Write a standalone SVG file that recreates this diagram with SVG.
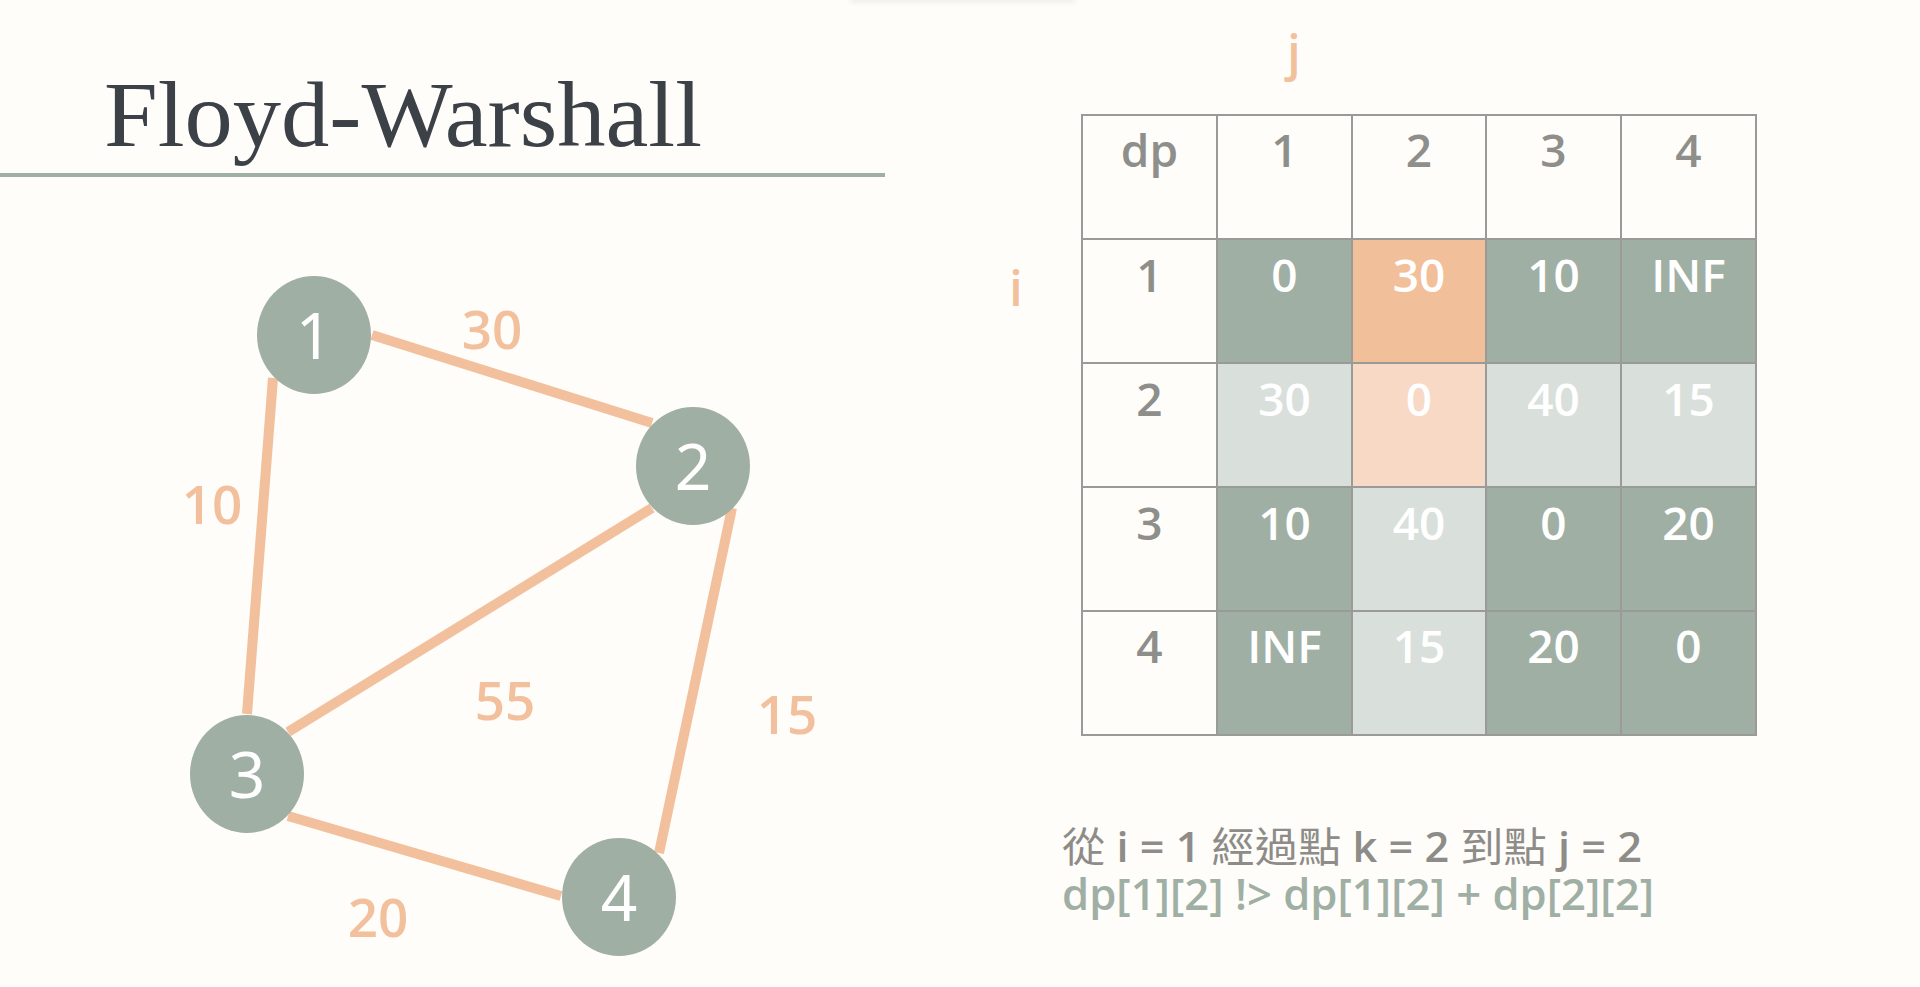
<svg xmlns="http://www.w3.org/2000/svg" width="1920" height="987" viewBox="0 0 1920 987">
<defs>
<filter id="blur" x="-20%" y="-200%" width="140%" height="500%"><feGaussianBlur stdDeviation="3"/></filter>
<style>
.node{fill:#a0afa4}
.nlabel{font-family:"Noto Sans","Open Sans",sans-serif;font-size:64px;fill:#ffffff;text-anchor:middle}
.edge{stroke:#f2c09c;stroke-width:10;fill:none}
.elabel{font-family:"Open Sans","Noto Sans",sans-serif;font-size:53px;font-weight:600;fill:#f2c09c;text-anchor:middle}
.cell{stroke:#9a9a98;stroke-width:2}
.white{fill:#fefdfa}
.dark{fill:#a0afa4}
.light{fill:#d9dfdb}
.org{fill:#f2bf9b}
.lorg{fill:#f7d9c5}
.hd{font-family:"Open Sans","Noto Sans",sans-serif;font-size:46px;font-weight:600;fill:#8e8e8b;text-anchor:middle}
.val{font-family:"Open Sans","Noto Sans",sans-serif;font-size:46px;font-weight:600;fill:#ffffff;text-anchor:middle}
.axis{font-family:"Open Sans","Noto Sans",sans-serif;font-size:48px;font-weight:600;fill:#f2c09c;text-anchor:middle}
.cjk{font-weight:400}
</style>
</defs>
<rect x="0" y="0" width="1920" height="987" fill="#fefdfa"/>
<rect x="850" y="-4" width="225" height="6" fill="#000" opacity="0.08" filter="url(#blur)"/>

<g id="title">
<text x="104" y="146" font-family="Liberation Serif, serif" font-size="93" fill="#3c4147" textLength="598" lengthAdjust="spacingAndGlyphs">Floyd-Warshall</text>
<rect x="0" y="173" width="885" height="4" fill="#a0afa4"/>
</g>

<g id="connectors">
<line class="edge" x1="372" y1="335" x2="652" y2="423"/>
<line class="edge" x1="273" y1="378" x2="247" y2="714"/>
<line class="edge" x1="652" y1="508" x2="288" y2="732"/>
<line class="edge" x1="732" y1="508" x2="659" y2="853"/>
<line class="edge" x1="288" y1="816" x2="561" y2="896"/>
<text class="elabel" x="492" y="349">30</text>
<text class="elabel" x="212" y="524">10</text>
<text class="elabel" x="505" y="720">55</text>
<text class="elabel" x="787" y="734">15</text>
<text class="elabel" x="378" y="937">20</text>
</g>

<g id="node1"><ellipse class="node" cx="314" cy="335" rx="57" ry="59"/><text class="nlabel" x="314" y="359">1</text></g>
<g id="node2"><ellipse class="node" cx="693" cy="466" rx="57" ry="59"/><text class="nlabel" x="693" y="490">2</text></g>
<g id="node3"><ellipse class="node" cx="247" cy="774" rx="57" ry="59"/><text class="nlabel" x="247" y="798">3</text></g>
<g id="node4"><ellipse class="node" cx="619" cy="897" rx="57" ry="59"/><text class="nlabel" x="619" y="921">4</text></g>

<g id="table">
<text class="axis" x="1294" y="70">j</text>
<text class="axis" x="1016" y="306">i</text>
<rect class="cell white" x="1082" y="115" width="135" height="124"/>
<rect class="cell white" x="1217" y="115" width="135" height="124"/>
<rect class="cell white" x="1352" y="115" width="134" height="124"/>
<rect class="cell white" x="1486" y="115" width="135" height="124"/>
<rect class="cell white" x="1621" y="115" width="135" height="124"/>
<rect class="cell white" x="1082" y="239" width="135" height="124"/>
<rect class="cell dark" x="1217" y="239" width="135" height="124"/>
<rect class="cell org" x="1352" y="239" width="134" height="124"/>
<rect class="cell dark" x="1486" y="239" width="135" height="124"/>
<rect class="cell dark" x="1621" y="239" width="135" height="124"/>
<rect class="cell white" x="1082" y="363" width="135" height="124"/>
<rect class="cell light" x="1217" y="363" width="135" height="124"/>
<rect class="cell lorg" x="1352" y="363" width="134" height="124"/>
<rect class="cell light" x="1486" y="363" width="135" height="124"/>
<rect class="cell light" x="1621" y="363" width="135" height="124"/>
<rect class="cell white" x="1082" y="487" width="135" height="124"/>
<rect class="cell dark" x="1217" y="487" width="135" height="124"/>
<rect class="cell light" x="1352" y="487" width="134" height="124"/>
<rect class="cell dark" x="1486" y="487" width="135" height="124"/>
<rect class="cell dark" x="1621" y="487" width="135" height="124"/>
<rect class="cell white" x="1082" y="611" width="135" height="124"/>
<rect class="cell dark" x="1217" y="611" width="135" height="124"/>
<rect class="cell light" x="1352" y="611" width="134" height="124"/>
<rect class="cell dark" x="1486" y="611" width="135" height="124"/>
<rect class="cell dark" x="1621" y="611" width="135" height="124"/>

<text class="hd" x="1149.5" y="167">dp</text>
<text class="hd" x="1284.5" y="167">1</text>
<text class="hd" x="1419" y="167">2</text>
<text class="hd" x="1553.5" y="167">3</text>
<text class="hd" x="1688.5" y="167">4</text>

<text class="hd" x="1149.5" y="292">1</text>
<text class="val" x="1284.5" y="292">0</text>
<text class="val" x="1419" y="292">30</text>
<text class="val" x="1553.5" y="292">10</text>
<text class="val" x="1688.5" y="292">INF</text>

<text class="hd" x="1149.5" y="416">2</text>
<text class="val" x="1284.5" y="416">30</text>
<text class="val" x="1419" y="416">0</text>
<text class="val" x="1553.5" y="416">40</text>
<text class="val" x="1688.5" y="416">15</text>

<text class="hd" x="1149.5" y="540">3</text>
<text class="val" x="1284.5" y="540">10</text>
<text class="val" x="1419" y="540">40</text>
<text class="val" x="1553.5" y="540">0</text>
<text class="val" x="1688.5" y="540">20</text>

<text class="hd" x="1149.5" y="663">4</text>
<text class="val" x="1284.5" y="663">INF</text>
<text class="val" x="1419" y="663">15</text>
<text class="val" x="1553.5" y="663">20</text>
<text class="val" x="1688.5" y="663">0</text>
</g>

<g id="caption">
<text x="1062" y="862" font-family="Open Sans, Noto Sans CJK TC, sans-serif" font-size="41" font-weight="600" fill="#8e8c88" textLength="580" lengthAdjust="spacingAndGlyphs"><tspan class="cjk">從</tspan> i = 1 <tspan class="cjk">經過點</tspan> k = 2 <tspan class="cjk">到點</tspan> j = 2</text>
<text x="1062" y="910" font-family="Open Sans, Noto Sans, sans-serif" font-size="44" font-weight="600" fill="#a0afa4" textLength="592" lengthAdjust="spacingAndGlyphs">dp[1][2] !&gt; dp[1][2] + dp[2][2]</text>
</g>
</svg>
